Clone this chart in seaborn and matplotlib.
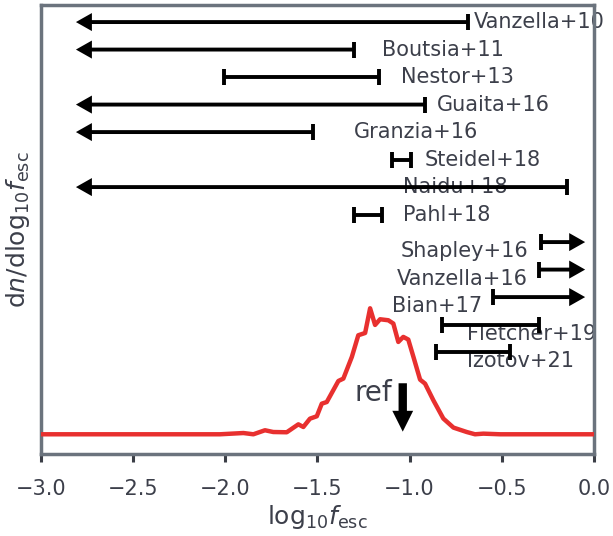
import numpy as np
import pandas as pd
import matplotlib
matplotlib.use("Agg")
import matplotlib.pyplot as plt
import seaborn as sns

# ---- data ----
curve_logf = [-3.0, -2.028, -1.901, -1.847, -1.784, -1.739, -1.666, -1.603, -1.576,
              -1.540, -1.503, -1.476, -1.449, -1.386, -1.359, -1.313, -1.278, -1.241,
              -1.214, -1.187, -1.160, -1.115, -1.088, -1.061, -1.034, -1.007, -0.979,
              -0.943, -0.916, -0.871, -0.817, -0.762, -0.690, -0.645, -0.600, -0.509, 0.0]
curve_dens = [0.0, 0.0, 0.010, 0.0, 0.032, 0.018, 0.016, 0.079, 0.058,
              0.124, 0.143, 0.243, 0.256, 0.423, 0.442, 0.614, 0.786, 0.804,
              1.0, 0.868, 0.913, 0.905, 0.879, 0.733, 0.773, 0.752, 0.614,
              0.434, 0.402, 0.270, 0.125, 0.053, 0.018, 0.0, 0.005, 0.0, 0.0]

studies = ["Vanzella+10", "Boutsia+11", "Nestor+13", "Guaita+16", "Granzia+16",
           "Steidel+18", "Naidu+18", "Pahl+18", "Shapley+16", "Vanzella+16",
           "Bian+17", "Fletcher+19", "Izotov+21"]
kinds = ["upper", "upper", "range", "upper", "upper",
         "range", "upper", "range", "lower", "lower",
         "lower", "range", "range"]
low_vals = [np.nan, np.nan, -2.006, np.nan, np.nan,
            -1.097, np.nan, -1.301, -0.289, -0.298,
            -0.549, -0.825, -0.858]
high_vals = [-0.683, -1.301, -1.166, -0.916, -1.523,
             -0.992, -0.146, -1.152, np.nan, np.nan,
             np.nan, -0.298, -0.455]
ref_logf = -1.037

# label placement (x in data units)
label_x = [-0.650, -1.149, -1.046, -0.851, -1.301, -0.916, -1.035, -1.035,
           -1.051, -1.069, -1.097, -0.690, -0.690]

# ---- style ----
sns.set_theme(style="ticks")
spine_col = "#6b737d"
text_col = "#3c3f4a"
plt.rcParams.update({
    "font.family": ["DejaVu Sans"],
    "mathtext.fontset": "dejavusans",
    "axes.edgecolor": spine_col,
    "axes.linewidth": 2.5,
    "xtick.color": "#3b3e46",
    "xtick.labelcolor": text_col,
    "xtick.major.width": 2.2,
    "xtick.major.size": 5.8,
    "xtick.major.pad": 12,
    "xtick.labelsize": 15,
    "axes.labelcolor": text_col,
    "text.color": text_col,
})

fig = plt.figure(figsize=(6.13, 5.36), dpi=100)
ax = fig.add_axes([0.0664, 0.1524, 0.9026, 0.8377])

df = pd.DataFrame({"logf": curve_logf, "dens": curve_dens})
sns.lineplot(data=df, x="logf", y="dens", color="#e8302f", lw=3.2, ax=ax, zorder=3)

ax.set_xlim(-3.0, 0.0)
ax.set_ylim(-0.159, 3.405)
ax.set_xticks(np.arange(-3.0, 0.01, 0.5))
ax.set_yticks([])
ax.set_xlabel(r"$\mathrm{log}_{10}f_{\rm esc}$", fontsize=18, labelpad=3)
ax.set_ylabel(r"d$n$/d$\mathrm{log}_{10}f_{\rm esc}$", fontsize=18, labelpad=6)

row_top, row_step = 3.272, 0.2183
left_tip, right_tip = -2.809, -0.048
lw_bar = 2.8
cap = 11.5

arrow_style = "simple,head_length=1.15,head_width=1.3,tail_width=0.28"
for i, (name, kind, lo, hi, lx) in enumerate(zip(studies, kinds, low_vals, high_vals, label_x)):
    y = row_top - row_step * i
    if kind == "range":
        mid = 0.5 * (lo + hi)
        ax.errorbar([mid], [y], xerr=[[mid - lo], [hi - mid]], fmt="none",
                    ecolor="black", elinewidth=lw_bar, capsize=cap / 2,
                    capthick=lw_bar, zorder=4)
    elif kind == "upper":
        ax.annotate("", xy=(left_tip, y), xytext=(hi, y),
                    arrowprops=dict(arrowstyle=arrow_style, color="black", lw=0,
                                    shrinkA=0, shrinkB=0, mutation_scale=10), zorder=4)
        ax.plot([hi], [y], marker="|", ms=cap, mew=lw_bar, color="black", zorder=4)
    else:
        ax.annotate("", xy=(right_tip, y), xytext=(lo, y),
                    arrowprops=dict(arrowstyle=arrow_style, color="black", lw=0,
                                    shrinkA=0, shrinkB=0, mutation_scale=10), zorder=4)
        ax.plot([lo], [y], marker="|", ms=cap, mew=lw_bar, color="black", zorder=4)
    ty = y if i < 8 else y - 0.071
    ax.text(lx, ty, name, fontsize=15, ha="left", va="center", color=text_col, zorder=2)

# reference arrow
ax.annotate("", xy=(ref_logf, 0.021), xytext=(ref_logf, 0.405),
            arrowprops=dict(arrowstyle="simple,head_length=1.5,head_width=1.5,tail_width=0.6",
                            color="black", lw=0, shrinkA=0, shrinkB=0, mutation_scale=10),
            zorder=5)
ax.text(-1.097, 0.328, "ref", fontsize=20, ha="right", va="center", color=text_col)

fig.savefig("out.png", dpi=100)
